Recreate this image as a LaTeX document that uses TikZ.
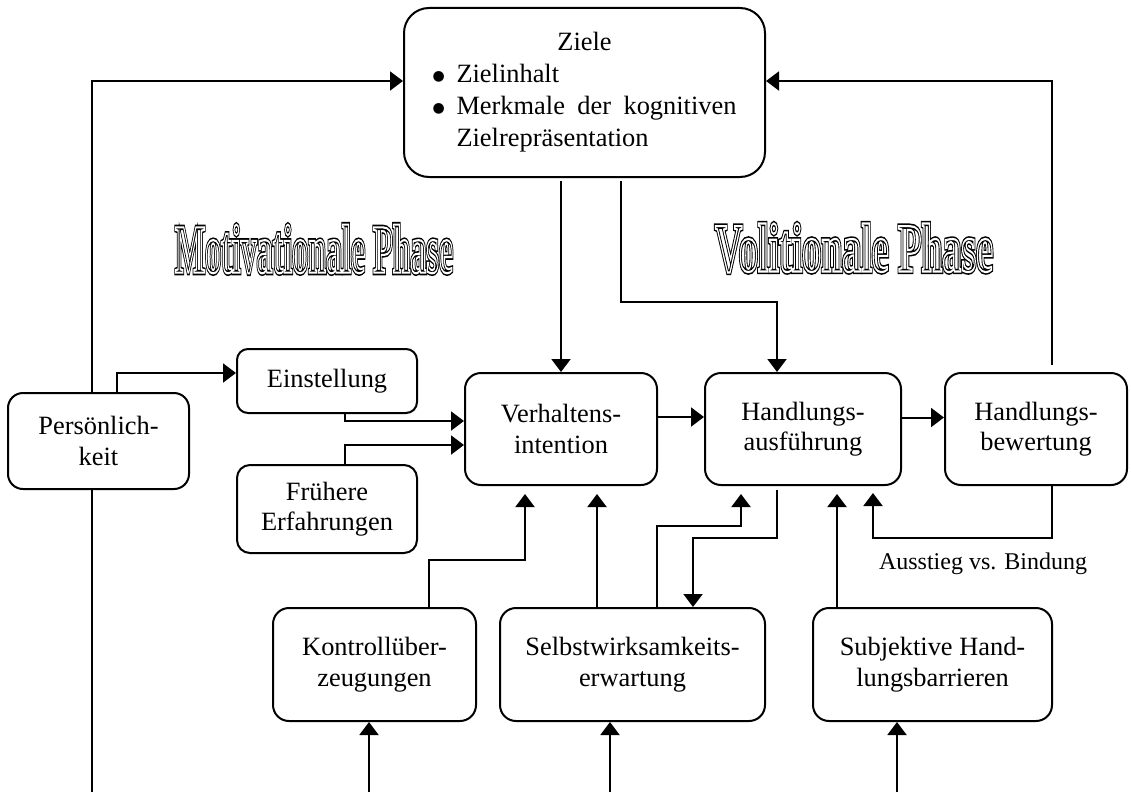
\documentclass[tikz,border=0pt]{standalone}
\usepackage{fontspec}
\setmainfont{Liberation Serif}
\newfontfamily\symfont{DejaVu Sans}
\usepackage{graphicx}
\usetikzlibrary{arrows.meta,calc}

% hollow (double outlined) display lettering
\newcommand\hohlschrift[1]{%
  \leavevmode\rlap{\special{pdf:literal direct 1 Tr 5.5 w}#1}%
  \textcolor{white}{\special{pdf:literal direct 1 Tr 2.2 w}#1}%
  \special{pdf:literal direct 0 Tr}}
% list bullet
\newcommand\dickpunkt{\raisebox{2pt}{\symfont\fontsize{14pt}{14pt}\selectfont ●}}

\tikzset{
  kasten/.style={draw, line width=2pt, fill=white, inner sep=0pt, align=center,
    font=\fontsize{26.4pt}{30.5pt}\selectfont},
  conn/.style={line width=2pt},
  arr/.style={conn, -{Triangle[length=13pt,width=19pt]}},
  titel/.style={inner sep=0pt},
}

\begin{document}
\begin{tikzpicture}[x=1pt,y=-1pt]
\useasboundingbox (0,0) rectangle (1131,792);

% boxes
\node[kasten, minimum width=361pt, minimum height=169pt, rounded corners=25pt] (ziele) at (584.5,92.5) {%
  \begin{minipage}{304pt}\fontsize{26.4pt}{32pt}\selectfont
  \centering Ziele\par
  \raggedright
  \makebox[24pt][l]{\dickpunkt}Zielinhalt\par
  \makebox[24pt][l]{\dickpunkt}\makebox[280pt][s]{Merkmale der kognitiven}\par
  \hspace*{24pt}Zielrepräsentation
  \end{minipage}};
\node[kasten, minimum width=181pt, minimum height=96pt, rounded corners=15pt] (pers) at (98.5,441) {Persönlich-\\keit};
\node[kasten, minimum width=180pt, minimum height=64pt, rounded corners=11pt] (einst) at (327,381) {Einstellung};
\node[kasten, minimum width=180pt, minimum height=88pt, rounded corners=13pt] (frueh) at (327,509) {Frühere\\Erfahrungen};
\node[kasten, minimum width=192pt, minimum height=112pt, rounded corners=16pt] (verh) at (561,429) {Verhaltens-\\intention};
\node[kasten, minimum width=196pt, minimum height=112pt, rounded corners=16pt] (hand) at (803,429) {Handlungs-\\ausführung};
\node[kasten, minimum width=182pt, minimum height=112pt, rounded corners=16pt] (bew) at (1036,429) {Handlungs-\\bewertung};
\node[kasten, minimum width=203pt, minimum height=113pt, rounded corners=16pt] (kontr) at (374.5,664.5) {Kontrollüber-\\zeugungen};
\node[kasten, minimum width=265pt, minimum height=113pt, rounded corners=16pt] (selbst) at (632.5,664.5) {Selbstwirksamkeits-\\erwartung};
\node[kasten, minimum width=239pt, minimum height=113pt, rounded corners=16pt] (subj) at (932.5,664.5) {Subjektive Hand-\\lungsbarrieren};

% phase headings
\node[titel] (motiv) at (314,249) {\resizebox{278pt}{48pt}{\fontsize{71pt}{71pt}\selectfont\bfseries\hohlschrift{Motivationale Phase}}};
\node[titel] (volit) at (854,248) {\resizebox{278pt}{48pt}{\fontsize{71pt}{71pt}\selectfont\bfseries\hohlschrift{Volitionale Phase}}};

% loose ends at the lower edge
\coordinate (lb) at (92,792);
\coordinate (kb) at (369,792);
\coordinate (sb) at (610,792);
\coordinate (ub) at (897,792);

% connectors
\draw[arr] (lb |- pers.north) |- ([yshift=11.5pt]ziele.west);
\draw[conn] (lb |- pers.south) -- (lb);
\draw[arr] ([xshift=18.5pt]pers.north) |- ([yshift=8pt]einst.west);
\draw[arr] ([xshift=18pt]einst.south) |- ([yshift=8pt]verh.west);
\draw[arr] ([xshift=18pt]frueh.north) |- ([yshift=-16pt]verh.west);
\draw[arr, shorten <=3pt] (ziele.south -| verh.north) -- (verh.north);
\draw[arr, shorten <=3pt] ([xshift=36.5pt]ziele.south) -- ++(0pt,-124pt) -| ([xshift=-26pt]hand.north);
\draw[arr] ([yshift=12pt]verh.east) -- ([yshift=12pt]hand.west);
\draw[arr] ([yshift=11.5pt]hand.east) -- ([yshift=11.5pt]bew.west);
\draw[arr, shorten <=7pt] ([xshift=16pt]bew.north) |- ([yshift=11.5pt]ziele.east);
\draw[arr, shorten >=7pt] ([xshift=16pt]bew.south) -- ++(0pt,-52pt) -| ([xshift=70pt]hand.south);
\draw[arr, shorten >=8pt] ([xshift=54.5pt]kontr.north) -- ++(0pt,47pt) -| ([xshift=-36pt]verh.south);
\draw[arr, shorten >=8pt] ([xshift=-35.5pt]selbst.north) -- ([xshift=36pt]verh.south);
\draw[arr, shorten >=8pt] ([xshift=24.5pt]selbst.north) -- ++(0pt,81pt) -| ([xshift=-62pt]hand.south);
\draw[arr, shorten <=4pt] ([xshift=-26pt]hand.south) -- ++(0pt,-52pt) -| ([xshift=60.5pt]selbst.north);
\draw[arr, shorten >=8pt] ([xshift=-95.5pt]subj.north) -- ([xshift=34pt]hand.south);
\draw[arr] (kb) -- (kb |- kontr.south);
\draw[arr] (sb) -- (sb |- selbst.south);
\draw[arr] (ub) -- (ub |- subj.south);

\node[anchor=base, inner sep=0pt, font=\fontsize{24pt}{28pt}\selectfont] (ausstieg) at (983,569) {Ausstieg vs. Bindung};
\end{tikzpicture}
\end{document}
